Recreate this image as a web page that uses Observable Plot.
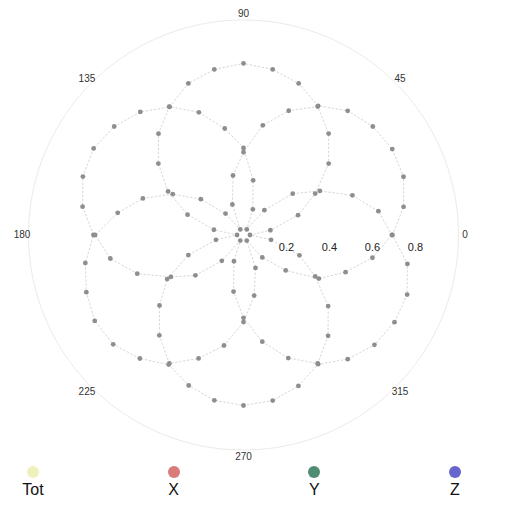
<!DOCTYPE html>
<html>
<head>
<meta charset="utf-8">
<script src="https://cdn.jsdelivr.net/npm/d3@7"></script>
<script src="https://cdn.jsdelivr.net/npm/@observablehq/plot@0.6"></script>
<style>
  html, body { margin: 0; padding: 0; background: #fff; }
  body { font-family: "Liberation Sans", Arial, sans-serif; }
  #wrap { position: relative; width: 530px; height: 509px; overflow: hidden; }
  #chart { position: absolute; left: 0; top: 0; }
  #legend { position: absolute; left: 0; top: 460px; width: 530px; height: 49px; }
  .item { position: absolute; top: 0; width: 60px; margin-left: -30px; text-align: center; }
  .sw { width: 12px; height: 12px; border-radius: 50%; margin: 6px auto 0; }
  .lab { font-size: 16px; line-height: 18px; color: #111; margin-top: 3px; }
</style>
</head>
<body>
<div id="wrap"><div id="chart"></div><div id="legend"></div></div>
<script>
// ---- data (angle in degrees, radius 0..1) ----
const angles = [0,10,20,30,40,50,60,70,80,90,100,110,120,130,140,150,160,170,
                180,190,200,210,220,230,240,250,260,270,280,290,300,310,320,330,340,350];
const totValues = [0.693,0.756,0.792,0.799,0.785,0.754,0.694,0.750,0.782,0.798,0.782,0.750,
                   0.688,0.747,0.785,0.805,0.795,0.760,0.698,0.747,0.778,0.799,0.791,0.750,
                   0.696,0.745,0.781,0.793,0.782,0.747,0.694,0.754,0.795,0.811,0.810,0.774];
const xValues   = [0.030,0.127,0.270,0.385,0.517,0.616,0.690,0.615,0.518,0.385,0.281,0.151,
                   0.030,0.130,0.259,0.380,0.498,0.594,0.690,0.629,0.526,0.390,0.292,0.157,
                   0.030,0.130,0.267,0.385,0.504,0.609,0.690,0.612,0.514,0.385,0.277,0.130];
const yValues   = [0.690,0.637,0.539,0.410,0.299,0.151,0.030,0.127,0.258,0.405,0.503,0.607,
                   0.690,0.615,0.517,0.405,0.277,0.140,0.030,0.130,0.273,0.410,0.510,0.609,
                   0.690,0.611,0.522,0.405,0.286,0.163,0.030,0.136,0.256,0.405,0.505,0.609];
const angleTicks  = [0,45,90,135,180,225,270,315];
const radialTicks = [0.2,0.4,0.6,0.8];
const seriesNames  = ["Tot","X","Y","Z"];
const seriesColors = ["#eef1bc","#d97b78","#4f8c71","#6666cc"];

// ---- build table ----
const seriesData = {Tot: totValues, X: xValues, Y: yValues};
const rows = [];
for (const [name, vals] of Object.entries(seriesData)) {
  angles.forEach((a, i) => rows.push({series: name, angle: a, r: vals[i]}));
}
// closed path for each series
const lineRows = [];
for (const [name, vals] of Object.entries(seriesData)) {
  angles.forEach((a, i) => lineRows.push({series: name, angle: a, r: vals[i]}));
  lineRows.push({series: name, angle: 360, r: vals[0]});
}
const rad = a => a * Math.PI / 180;
const px = d => d.r * Math.cos(rad(d.angle));
const py = d => d.r * Math.sin(rad(d.angle));

const outer = d3.range(0, 361, 2).map(a => ({angle: a, r: 1}));

const chart = Plot.plot({
  width: 530,
  height: 472,
  marginLeft: 28,
  marginRight: 72,
  marginTop: 19.5,
  marginBottom: 22.5,
  x: {domain: [-1, 1], axis: null},
  y: {domain: [-1, 1], axis: null},
  style: {background: "transparent", fontFamily: "Liberation Sans, Arial, sans-serif"},
  marks: [
    Plot.line(outer, {x: px, y: py, stroke: "#ebebeb", strokeWidth: 1}),
    Plot.line(lineRows, {x: px, y: py, z: "series", stroke: "#d6d6d6", strokeWidth: 1,
                         strokeDasharray: "1.5,2.5"}),
    Plot.dot(rows, {x: px, y: py, r: 2.4, fill: "#8e8e8e"}),
    Plot.text(angleTicks, {x: a => 1.03 * Math.cos(rad(a)), y: a => 1.03 * Math.sin(rad(a)),
                           text: a => String(a), fontSize: 10, fill: "#333"}),
    Plot.text(radialTicks, {x: r => r, y: 0, dy: 12, text: r => r.toFixed(1),
                            fontSize: 11, fill: "#222"})
  ]
});
document.getElementById("chart").appendChild(chart);

// ---- legend (marker above label) ----
const lx = d3.scalePoint().domain(seriesNames).range([33, 455]);
const legend = document.getElementById("legend");
seriesNames.forEach((n, i) => {
  const it = document.createElement("div");
  it.className = "item";
  it.style.left = lx(n) + "px";
  it.innerHTML = `<div class="sw" style="background:${seriesColors[i]}"></div><div class="lab">${n}</div>`;
  legend.appendChild(it);
});
</script>
</body>
</html>
